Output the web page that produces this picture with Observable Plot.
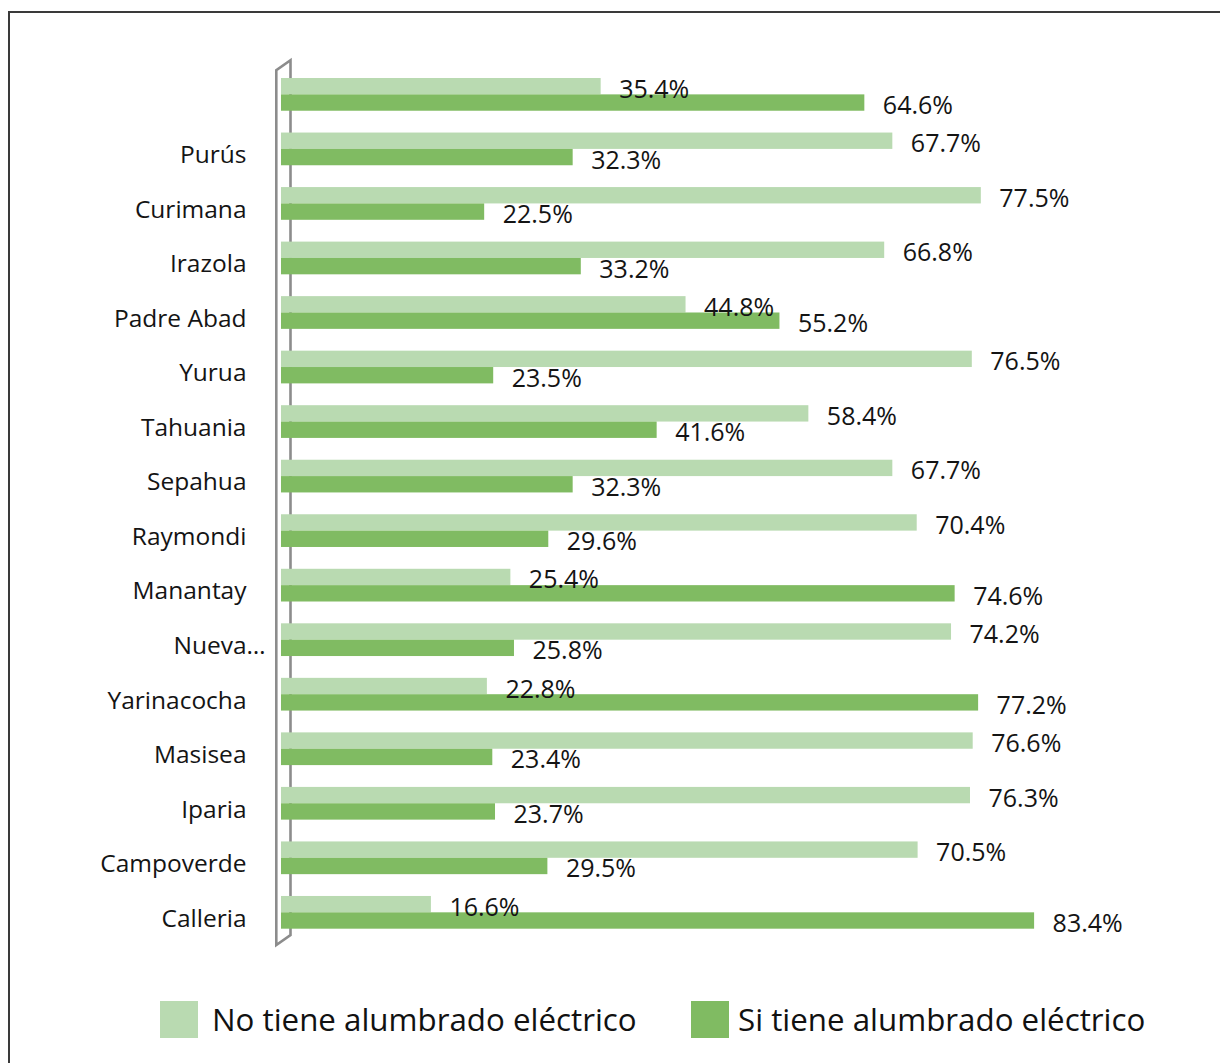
<!DOCTYPE html>
<html>
<head>
<meta charset="utf-8">
<script src="https://cdn.jsdelivr.net/npm/d3@7"></script>
<script src="https://cdn.jsdelivr.net/npm/@observablehq/plot@0.6"></script>
<style>
  html, body { margin: 0; padding: 0; background: #fff; overflow: hidden; }
  body { position: relative; width: 1220px; height: 1063px; font-family: "Open Sans", sans-serif; }
  #frame { position: absolute; left: 8px; top: 11px; width: 1300px; height: 1200px; border: 2px solid #3a3a3a; box-sizing: border-box; }
  #chart { position: absolute; left: 0; top: 0; }
  .leg { position: absolute; display: flex; align-items: center; font-size: 31.3px; color: #111; }
  .sw { width: 38px; height: 37px; display: inline-block; }
</style>
</head>
<body>
<div id="frame"></div>
<div id="chart"></div>
<div class="leg" style="left:160px; top:998px;"><span class="sw" style="background:#b9dab1"></span><span style="margin-left:14px">No tiene alumbrado eléctrico</span></div>
<div class="leg" style="left:691px; top:998px;"><span class="sw" style="background:#80bb62"></span><span style="margin-left:9px">Si tiene alumbrado eléctrico</span></div>
<script>
const categories = ["", "Purús", "Curimana", "Irazola", "Padre Abad", "Yurua", "Tahuania", "Sepahua", "Raymondi", "Manantay", "Nueva…", "Yarinacocha", "Masisea", "Iparia", "Campoverde", "Calleria"];
const noTiene = [35.4, 67.7, 77.5, 66.8, 44.8, 76.5, 58.4, 67.7, 70.4, 25.4, 74.2, 22.8, 76.6, 76.3, 70.5, 16.6];
const siTiene = [64.6, 32.3, 22.5, 33.2, 55.2, 23.5, 41.6, 32.3, 29.6, 74.6, 25.8, 77.2, 23.4, 23.7, 29.5, 83.4];
const seriesNames = ["No tiene alumbrado eléctrico", "Si tiene alumbrado eléctrico"];
const colors = ["#b9dab1", "#80bb62"];
const truncatedLabel = "Nueva…";

const noData = categories.map((c, i) => ({cat: c, value: noTiene[i]}));
const siData = categories.map((c, i) => ({cat: c, value: siTiene[i]}));
const catRows = categories.map(c => ({cat: c}));

const W = 1220, H = 985, mt = 56.2, mb = 34.5, pad = 0.4;
const step = (H - mt - mb) / (categories.length - pad + 2 * pad);
const half = step * (1 - pad) / 2;
const font = "Open Sans";
const ink = "#141414";
const fmt = d => d.toFixed(1) + "%";

const plot = Plot.plot({
  width: W,
  height: H,
  marginLeft: 281,
  marginRight: 36,
  marginTop: mt,
  marginBottom: mb,
  style: {fontFamily: font, fontSize: "24px", color: ink, background: "transparent"},
  x: {domain: [0, 100], axis: null},
  y: {domain: categories, padding: pad, round: false, axis: null},
  marks: [
    Plot.barX(noData, {x: "value", y: "cat", fill: colors[0], insetBottom: half, insetTop: 0}),
    Plot.barX(siData, {x: "value", y: "cat", fill: colors[1], insetTop: half, insetBottom: 0}),
    Plot.text(noData, {x: "value", y: "cat", text: d => fmt(d.value), textAnchor: "start", dx: 18, dy: -half / 2 + 3, fontSize: 25, fill: ink, fontFamily: font}),
    Plot.text(siData, {x: "value", y: "cat", text: d => fmt(d.value), textAnchor: "start", dx: 18, dy: half / 2 + 3, fontSize: 25, fill: ink, fontFamily: font}),
    // category labels (right-aligned), the truncated one is left-aligned like the original
    Plot.text(catRows.filter(d => d.cat !== truncatedLabel), {x: 0, y: "cat", text: "cat", textAnchor: "end", dx: -35, dy: 6, fontSize: 24.5, fill: ink, fontFamily: font}),
    Plot.text(catRows.filter(d => d.cat === truncatedLabel), {x: 0, y: "cat", text: "cat", textAnchor: "start", dx: -108, dy: 6, fontSize: 24.5, fill: ink, fontFamily: font})
  ]
});

document.getElementById("chart").appendChild(plot);

// decorative 3D "wall" along the category axis, derived from the scales
const xs = plot.scale("x");
const ys = plot.scale("y");
const x0 = xs.apply(0);
const [r0, r1] = ys.range;
const svg = d3.select(plot);
const wall = `M${x0 - 4.7},${r0 + 14} L${x0 - 4.7},${r1 - 5.5} L${x0 + 9.5},${r1 - 15.5} L${x0 + 9.5},${r0 + 4} Z`;
svg.insert("path", ":first-child")
  .attr("d", wall)
  .attr("fill", "none")
  .attr("stroke", "#8c8c8c")
  .attr("stroke-width", 2.6)
  .attr("stroke-linejoin", "miter");
</script>
</body>
</html>
